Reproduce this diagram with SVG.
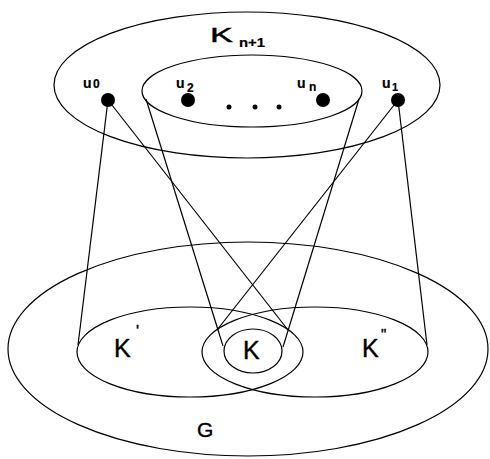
<svg xmlns="http://www.w3.org/2000/svg" width="490" height="459" viewBox="0 0 490 459">
<style>
.s{fill:none;stroke:#000;stroke-width:1.2}
.t{font-family:"Liberation Sans",Arial,sans-serif;fill:#000;stroke:#000;stroke-width:0.4}
.b{font-weight:bold;stroke-width:0.2}
.n{fill:#000}
</style>
<rect width="490" height="459" fill="#fff"/>
<g id="Knp1"><ellipse class="s" cx="247" cy="85" rx="193" ry="73"/>
<text class="t" x="210" y="42" font-size="21" textLength="23" lengthAdjust="spacingAndGlyphs">K</text>
<text class="t b" x="239" y="47" font-size="12" textLength="26" lengthAdjust="spacingAndGlyphs">n+1</text></g>
<g id="inner"><ellipse class="s" cx="252" cy="91" rx="110" ry="36"/></g>
<g id="G"><ellipse class="s" cx="248" cy="349" rx="240" ry="107"/>
<text class="t" x="197" y="437" font-size="21">G</text></g>
<g id="Kp"><ellipse class="s" cx="190" cy="352" rx="113" ry="45"/>
<text class="t" x="114" y="357" font-size="25">K</text>
<text class="t" x="136" y="337" font-size="16">'</text></g>
<g id="Kpp"><ellipse class="s" cx="315" cy="352" rx="113" ry="45"/>
<text class="t" x="362" y="357" font-size="25">K</text>
<text class="t" x="381" y="339" font-size="15">"</text></g>
<g id="K"><ellipse class="s" cx="253" cy="351" rx="29" ry="22"/>
<text class="t" x="243" y="359" font-size="25">K</text></g>
<g id="connectors">
<line class="s" x1="108" y1="100" x2="78" y2="345"/>
<line class="s" x1="108" y1="100" x2="288" y2="330"/>
<line class="s" x1="398" y1="100" x2="217" y2="330"/>
<line class="s" x1="398" y1="100" x2="427" y2="345"/>
<line class="s" x1="146" y1="99" x2="223" y2="346"/>
<line class="s" x1="359" y1="99" x2="283" y2="347"/>
</g>
<g id="u0"><circle class="n" cx="108" cy="100" r="7"/>
<text class="t b" x="83" y="88" font-size="14">u</text><text class="t b" x="93" y="88" font-size="12">0</text></g>
<g id="u2"><circle class="n" cx="188" cy="100" r="7"/>
<text class="t b" x="176" y="88" font-size="14">u</text><text class="t b" x="187" y="92" font-size="12">2</text></g>
<g id="un"><circle class="n" cx="323" cy="100" r="7"/>
<text class="t b" x="297" y="88" font-size="14">u</text><text class="t b" x="309" y="91" font-size="12">n</text></g>
<g id="u1"><circle class="n" cx="398" cy="100" r="7"/>
<text class="t b" x="382" y="88" font-size="14">u</text><text class="t b" x="392" y="91" font-size="11">1</text></g>
<g id="dots"><circle class="n" cx="229" cy="107" r="2.5"/><circle class="n" cx="255" cy="107" r="2.5"/><circle class="n" cx="279" cy="107" r="2.5"/></g>
</svg>
